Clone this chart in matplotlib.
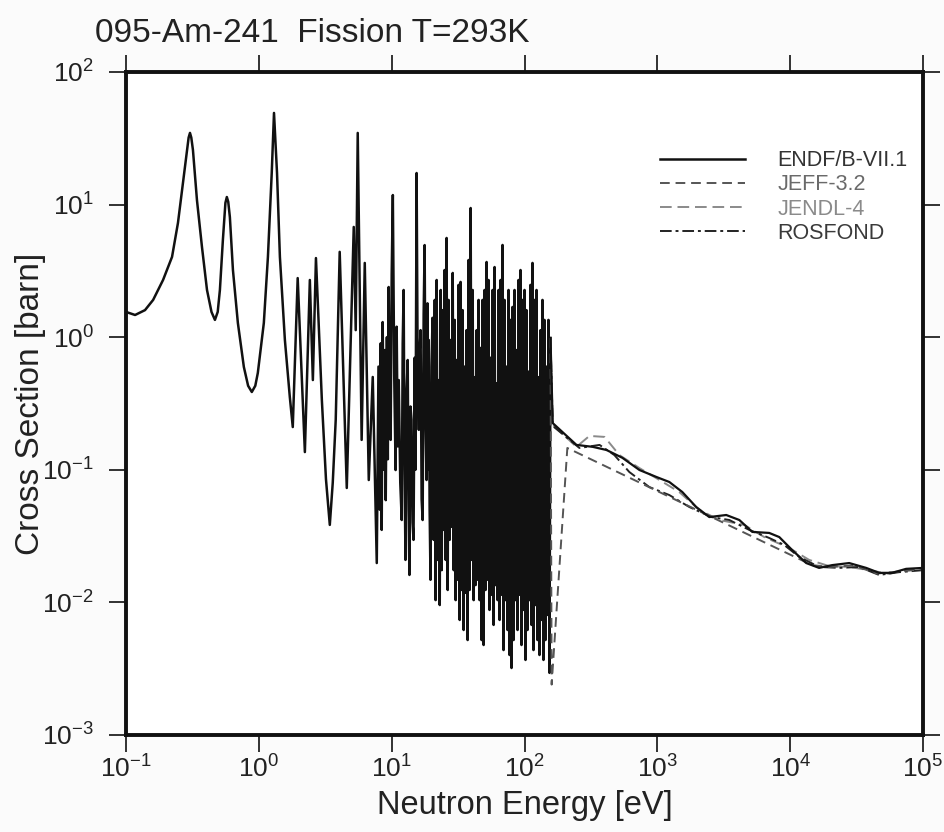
import numpy as np
import matplotlib
matplotlib.use("Agg")
import matplotlib.pyplot as plt
from matplotlib.lines import Line2D

plt.rcParams['font.family'] = ['Liberation Sans', 'DejaVu Sans']
plt.rcParams['mathtext.default'] = 'regular'

# resolved resonance region, 0.1 - 20 eV (shared by all libraries)
low_E = [0.100, 0.117, 0.139, 0.160, 0.190, 0.222, 0.246, 0.268, 0.288, 0.296,
         0.303, 0.310, 0.319, 0.342, 0.373, 0.407, 0.440, 0.467, 0.490, 0.509,
         0.536, 0.560, 0.574, 0.588, 0.605, 0.638, 0.695, 0.771, 0.830, 0.885,
         0.940, 0.982, 1.09, 1.17, 1.25, 1.30, 1.37, 1.44, 1.57, 1.71,
         1.80, 1.96, 2.22, 2.42, 2.55, 2.69, 2.98, 3.20, 3.42, 3.60,
         3.79, 4.06, 4.59, 5.18, 5.36, 5.55, 5.94, 6.27, 6.72, 7.20,
         7.72, 7.95, 8.13, 8.27, 8.41, 8.55, 8.75, 8.90, 9.02, 9.20,
         9.35, 9.49, 9.65, 9.82, 10.0, 10.2, 10.45, 10.7, 10.9, 11.1,
         11.3, 11.6, 11.9, 12.1, 12.3, 12.5, 12.7, 12.95, 13.2, 13.4,
         13.6, 13.85, 14.1, 14.35, 14.6, 14.9, 15.1, 15.4, 15.7, 16.0,
         16.25, 16.5, 16.8, 17.1, 17.4, 17.7, 18.0, 18.3, 18.6, 18.8,
         19.0, 19.3, 19.6, 19.95, 20.3]
low_xs = [1.55, 1.47, 1.60, 1.91, 2.70, 4.03, 7.27, 14.5, 25.8, 32.0,
          34.7, 32.0, 25.8, 10.8, 4.79, 2.27, 1.55, 1.35, 1.55, 2.27,
          5.41, 10.3, 11.4, 10.5, 8.05, 3.21, 1.28, 0.596, 0.43, 0.386,
          0.43, 0.537, 1.28, 4.03, 17.3, 49.1, 17.3, 4.03, 0.953, 0.354,
          0.21, 2.79, 0.136, 2.70, 0.475, 3.95, 0.336, 0.085, 0.0384, 0.08,
          0.238, 4.4, 0.0729, 6.78, 1.13, 34.7, 0.168, 3.63, 0.0837, 0.501,
          0.0198, 0.6, 0.05, 0.9, 0.0352, 1.30, 0.1, 0.8, 0.059, 1.0,
          0.12, 2.39, 0.3, 0.168, 3.0, 11.8, 0.5, 0.0995, 1.2, 0.15,
          0.475, 0.08, 0.0418, 0.9, 2.27, 0.1, 0.0209, 0.4, 0.673, 0.05,
          0.0161, 0.3, 0.238, 0.04, 0.0296, 0.7, 0.1, 17.3, 0.5, 0.2,
          0.8, 1.13, 0.06, 0.0418, 1.5, 4.95, 0.2, 0.0837, 1.8, 0.1,
          0.953, 0.05, 0.0148, 0.6, 1.40]

# dense resonance region, 20 - 157 eV
dense_E = [20.7, 21.1, 21.4, 21.8, 22.2, 22.6, 23.0, 23.4, 23.8, 24.2,
           24.6, 25.0, 25.5, 25.9, 26.4, 26.8, 27.3, 27.8, 28.3, 28.8,
           29.3, 29.8, 30.3, 30.8, 31.4, 31.9, 32.5, 33.0, 33.6, 34.2,
           34.8, 35.4, 36.0, 36.6, 37.3, 37.9, 38.6, 39.3, 40.0, 40.7,
           41.4, 42.1, 42.8, 43.6, 44.3, 45.1, 45.9, 46.7, 47.5, 48.3,
           49.2, 50.0, 50.9, 51.8, 52.7, 53.6, 54.5, 55.5, 56.5, 57.5,
           58.5, 59.5, 60.5, 61.6, 62.7, 63.8, 64.9, 66.0, 67.2, 68.3,
           69.5, 70.7, 72.0, 73.2, 74.5, 75.8, 77.1, 78.5, 79.8, 81.2,
           82.7, 84.1, 85.6, 87.1, 88.6, 90.1, 91.7, 93.3, 94.9, 96.6,
           98.3, 100.0, 101.7, 103.5, 105.3, 107.2, 109.0, 110.9, 112.9, 114.8,
           116.8, 118.9, 121.0, 123.1, 125.2, 127.4, 129.6, 131.9, 134.2, 136.5,
           138.9, 141.3, 143.8, 146.3, 148.8, 151.4, 154.1, 156.8]
dense_xs = [0.0296, 1.91, 0.0104, 2.70, 0.0209, 0.475, 0.00955, 2.27, 0.0175, 1.60,
            0.0352, 3.21, 0.0209, 5.60, 0.0124, 1.91, 0.0296, 0.953, 0.0371, 3.05,
            0.0175, 1.35, 0.0104, 0.673, 0.0148, 2.48, 0.00737, 2.61, 0.0124, 1.60,
            0.00619, 0.60, 0.0118, 1.13, 0.0052, 3.82, 0.0124, 9.42, 0.0209, 2.27,
            0.0104, 0.50, 0.0135, 1.13, 0.0148, 1.91, 0.0104, 0.830, 0.0052, 1.91,
            0.00477, 2.27, 0.0124, 3.69, 0.0148, 2.70, 0.00877, 0.70, 0.0114, 2.27,
            0.00676, 3.38, 0.0135, 0.45, 0.0104, 2.27, 0.00737, 2.70, 0.0114, 4.96,
            0.00437, 1.91, 0.0104, 0.60, 0.00619, 2.27, 0.00401, 1.35, 0.0032, 1.69,
            0.0052, 2.27, 0.0104, 0.80, 0.00619, 2.70, 0.0114, 3.21, 0.00477, 1.91,
            0.00877, 2.27, 0.00368, 1.60, 0.00619, 0.55, 0.0104, 2.48, 0.00676, 3.63,
            0.00437, 1.91, 0.00955, 2.27, 0.0052, 0.50, 0.00401, 1.13, 0.00737, 1.91,
            0.00368, 1.35, 0.0052, 0.60, 0.00804, 1.35, 0.00294, 0.986]

# above the resonance region, per library
endf_E = [163, 246, 325, 414, 546, 733, 982, 1230, 1540, 1960, 2460, 3300, 4140,
          5180, 6950, 8270, 10350, 13200, 16500, 20700, 27800, 37300, 46700,
          58500, 74500, 100000]
endf_xs = [0.225, 0.154, 0.149, 0.141, 0.123, 0.0996, 0.0883, 0.0809, 0.068,
           0.0524, 0.044, 0.0456, 0.0418, 0.034, 0.0334, 0.0311, 0.0248, 0.0198,
           0.0182, 0.0191, 0.0198, 0.0182, 0.0167, 0.0167, 0.0179, 0.0182]

jeff_E = [160, 210, 14600, 20000, 30000, 45000, 62000, 100000]
jeff_xs = [0.0024, 0.146, 0.0191, 0.0185, 0.0190, 0.0165, 0.0170, 0.0178]

jendl_E = [163, 246, 308, 400, 518, 733, 1035, 1460, 2070, 2930, 4510, 6380,
           9830, 13900, 19600, 27800, 39300, 55500, 71900, 100000]
jendl_xs = [0.218, 0.149, 0.180, 0.177, 0.129, 0.103, 0.0838, 0.068, 0.0498,
            0.0418, 0.0384, 0.0311, 0.0257, 0.0209, 0.0188, 0.0185, 0.0175,
            0.0164, 0.0175, 0.0176]

rosf_E = [163, 259, 367, 475, 615, 870, 1230, 1740, 2550, 3480, 4920, 6950,
          9010, 11700, 16500, 23400, 33000, 46700, 66000, 100000]
rosf_xs = [0.214, 0.146, 0.154, 0.129, 0.0962, 0.0741, 0.0645, 0.0524, 0.044,
           0.0418, 0.0352, 0.0306, 0.0271, 0.022, 0.0185, 0.0182, 0.0185,
           0.0161, 0.0169, 0.0175]

labels = ['ENDF/B-VII.1', 'JEFF-3.2', 'JENDL-4', 'ROSFOND']
text_colors = ['#333333', '#6a6a6a', '#8a8a8a', '#3a3a3a']

res_E = low_E + dense_E
res_xs = low_xs + dense_xs

fig = plt.figure(figsize=(9.44, 8.32), dpi=100)
fig.patch.set_facecolor('#fbfbfb')
ax = fig.add_axes([0.1335, 0.1166, 0.8443, 0.7969])
ax.set_facecolor('white')

# resonance part, drawn once (the libraries coincide there)
ax.plot(res_E, res_xs, color='#111111', lw=1.8)

# tails above the resolved region
ax.plot([res_E[-1]] + jendl_E, [res_xs[-1]] + jendl_xs, color='#8a8a8a', lw=1.4,
        linestyle=(0, (6, 3)))
ax.plot([res_E[-1]] + rosf_E, [res_xs[-1]] + rosf_xs, color='#222222', lw=1.4,
        linestyle=(0, (6, 2, 1.5, 2)))
ax.plot([res_E[-1]] + jeff_E, [res_xs[-1]] + jeff_xs, color='#555555', lw=1.4,
        linestyle=(0, (5, 3)))
ax.plot([res_E[-1]] + endf_E, [res_xs[-1]] + endf_xs, color='#111111', lw=1.6)

ax.set_xscale('log')
ax.set_yscale('log')
ax.set_xlim(0.1, 1e5)
ax.set_ylim(1e-3, 1e2)
ax.minorticks_off()
ax.set_xticks([1e-1, 1e0, 1e1, 1e2, 1e3, 1e4, 1e5])
ax.set_yticks([1e-3, 1e-2, 1e-1, 1e0, 1e1, 1e2])

for s in ax.spines.values():
    s.set_linewidth(2.8)
    s.set_color('#111111')
ax.tick_params(which='major', direction='out', length=12, width=1.3,
               color='#222222', top=True, right=True, labelsize=19,
               labelcolor='#222222')
ax.tick_params(axis='x', pad=3)
ax.tick_params(axis='y', pad=11)

ax.set_xlabel('Neutron Energy [eV]', fontsize=23.5, color='#222222')
ax.set_ylabel('Cross Section [barn]', fontsize=24, color='#222222')
ax.xaxis.set_label_coords(0.5, -0.083)
ax.yaxis.set_label_coords(-0.100, 0.5)
fig.text(95 / 944, 1 - 42 / 832, '095-Am-241  Fission T=293K', fontsize=24,
         color='#222222', va='baseline', ha='left')

handles = [Line2D([], [], color='#111111', lw=1.8),
           Line2D([], [], color='#555555', lw=1.4, linestyle=(0, (5, 3))),
           Line2D([], [], color='#8a8a8a', lw=1.4, linestyle=(0, (6, 3))),
           Line2D([], [], color='#222222', lw=1.4, linestyle=(0, (6, 2, 1.5, 2)))]
leg = ax.legend(handles, labels, loc='upper left', bbox_to_anchor=(0.659, 0.895),
                frameon=False, fontsize=15.5, handlelength=3.95, handletextpad=1.5,
                labelspacing=0.15, borderaxespad=0)
for t, c in zip(leg.get_texts(), text_colors):
    t.set_color(c)

fig.savefig('out.png', dpi=100, facecolor=fig.get_facecolor())
